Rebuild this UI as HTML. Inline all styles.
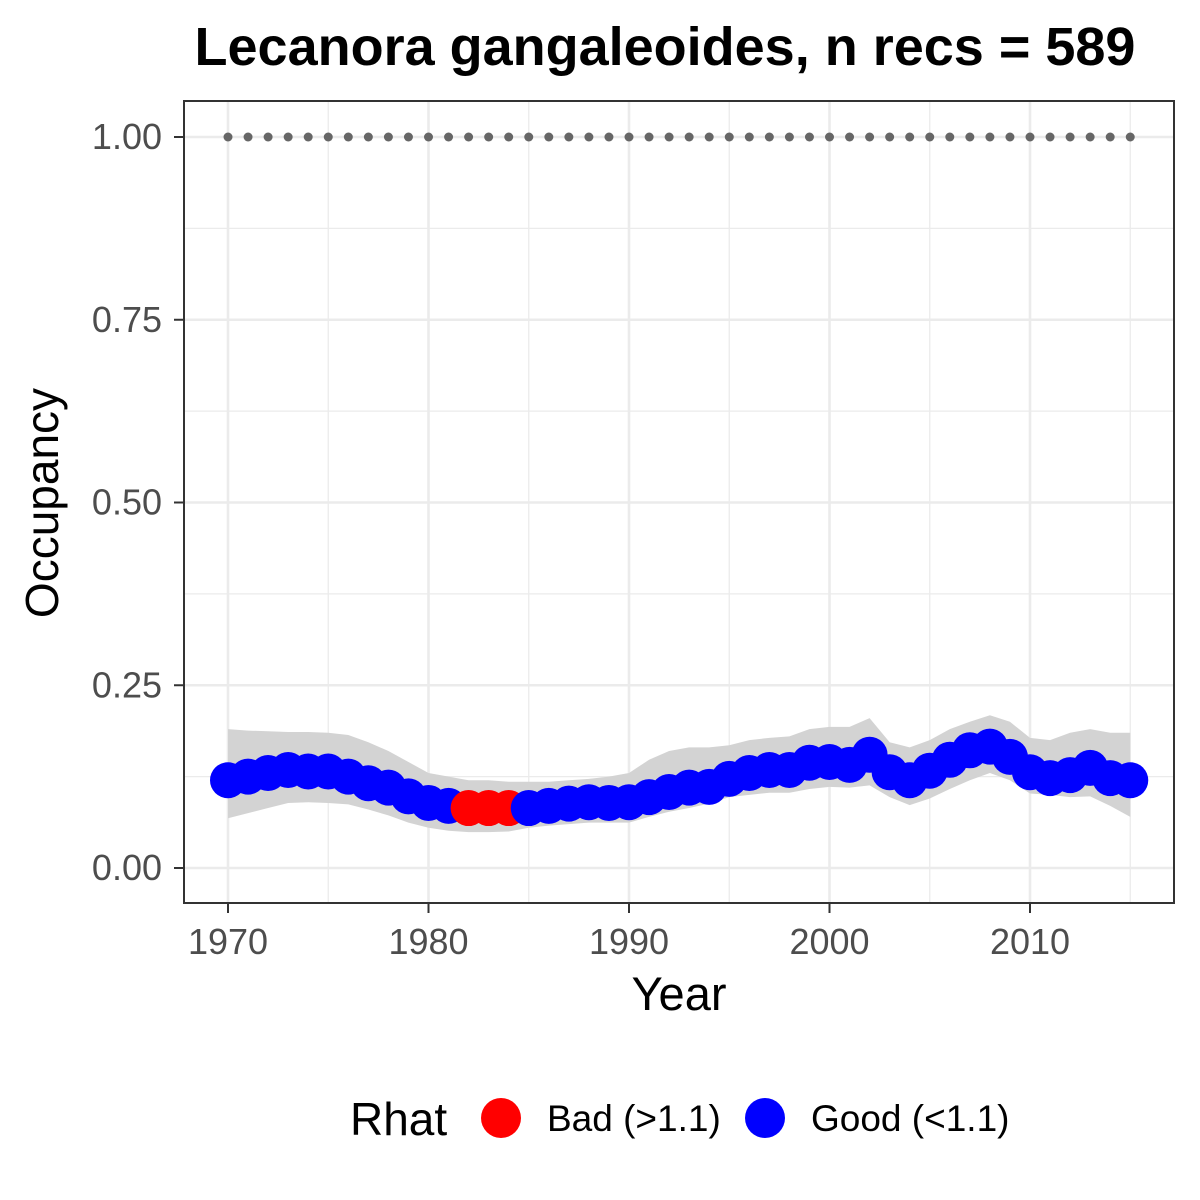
<!DOCTYPE html>
<html><head><meta charset="utf-8"><style>
body{margin:0;background:#fff;}
svg{display:block;font-family:"Liberation Sans",Arial,sans-serif;}
</style></head><body>
<svg id="chart" width="1200" height="1200">
<text x="665" y="65" text-anchor="middle" font-size="54" font-weight="bold">Lecanora gangaleoides, n recs = 589</text>
<g id="grid"></g>
<g id="ribbon"></g>
<g id="dots"></g>
<g id="points"></g>
<rect x="184" y="101" width="990" height="802" fill="none" stroke="#333" stroke-width="2"/>
<g id="axes"></g>
<text x="679" y="1010" text-anchor="middle" font-size="47">Year</text>
<text transform="translate(58,503) rotate(-90)" text-anchor="middle" font-size="46">Occupancy</text>
<g>
<text x="350" y="1135" font-size="46">Rhat</text>
<circle cx="501" cy="1118" r="20" fill="#ff0000"/>
<text x="547" y="1131" font-size="37">Bad (&gt;1.1)</text>
<circle cx="765" cy="1118" r="20" fill="#0000ff"/>
<text x="811" y="1131" font-size="37">Good (&lt;1.1)</text>
</g>
</svg>
<script>
const years=[];for(let y=1970;y<=2015;y++)years.push(y);
const occupancy=[0.12,0.125,0.13,0.134,0.132,0.132,0.125,0.116,0.11,0.098,0.089,0.085,0.082,0.082,0.082,0.082,0.085,0.088,0.09,0.089,0.09,0.097,0.104,0.11,0.111,0.122,0.13,0.134,0.134,0.144,0.145,0.141,0.155,0.131,0.12,0.133,0.148,0.161,0.166,0.152,0.131,0.123,0.127,0.137,0.123,0.12];
const upper=[0.19,0.188,0.187,0.186,0.186,0.185,0.182,0.172,0.16,0.145,0.13,0.125,0.12,0.12,0.118,0.118,0.118,0.12,0.122,0.125,0.13,0.148,0.16,0.165,0.165,0.168,0.175,0.178,0.18,0.19,0.193,0.193,0.205,0.172,0.165,0.175,0.19,0.2,0.209,0.2,0.178,0.175,0.185,0.19,0.185,0.185];
const lower=[0.068,0.075,0.082,0.089,0.09,0.089,0.087,0.08,0.072,0.062,0.055,0.051,0.049,0.049,0.05,0.055,0.058,0.06,0.062,0.062,0.062,0.07,0.077,0.082,0.088,0.097,0.1,0.103,0.103,0.108,0.111,0.11,0.113,0.097,0.086,0.095,0.108,0.12,0.13,0.12,0.102,0.1,0.097,0.098,0.085,0.07];
const rhatBad=[1982,1983,1984];
const xTicks=[1970,1980,1990,2000,2010];
const yTicks=[0,0.25,0.5,0.75,1.0];
const yLabels=["0.00","0.25","0.50","0.75","1.00"];
const NS="http://www.w3.org/2000/svg";
const X=y=>228+(y-1970)*20.05;
const Y=v=>868-v*731;
function mk(tag,attrs,parent){const e=document.createElementNS(NS,tag);for(const k in attrs)e.setAttribute(k,attrs[k]);document.getElementById(parent).appendChild(e);return e;}
for(let yr=1965;yr<=2015;yr+=5){const x=X(yr);if(x<184||x>1174)continue;
const l=mk('line',{x1:x,x2:x,y1:101,y2:903,stroke:'#ebebeb','stroke-width':yr%10==0?2.6:1.3},'grid');

}
for(let v=0;v<=1.0001;v+=0.125){const y=Y(v);
const l=mk('line',{x1:184,x2:1174,y1:y,y2:y,stroke:'#ebebeb','stroke-width':(Math.round(v*8)%2==0)?2.6:1.3},'grid');

}
let d='';years.forEach((yr,i)=>{d+=(i?'L':'M')+X(yr)+','+Y(upper[i]);});
for(let i=years.length-1;i>=0;i--)d+='L'+X(years[i])+','+Y(lower[i]);
const rb=mk('path',{d:d+'Z',fill:'#d3d3d3'},'ribbon');


years.forEach(yr=>{const c=mk('circle',{cx:X(yr),cy:Y(1),r:4.5,fill:'#666'},'dots');

});
years.forEach((yr,i)=>{const bad=rhatBad.includes(yr);
const c=mk('circle',{cx:X(yr),cy:Y(occupancy[i]),r:18,fill:bad?'#ff0000':'#0000ff'},'points');

});
xTicks.forEach(t=>{const x=X(t);
const l=mk('line',{x1:x,x2:x,y1:903,y2:913,stroke:'#333','stroke-width':2},'axes');


const tx=mk('text',{x:x,y:954,'text-anchor':'middle','font-size':36,fill:'#4d4d4d'},'axes');tx.textContent=t;

});
yTicks.forEach((t,i)=>{const y=Y(t);
const l=mk('line',{x1:174,x2:184,y1:y,y2:y,stroke:'#333','stroke-width':2},'axes');


const tx=mk('text',{x:162,y:y+12,'text-anchor':'end','font-size':36,fill:'#4d4d4d'},'axes');tx.textContent=yLabels[i];

});
</script>
</body></html>
